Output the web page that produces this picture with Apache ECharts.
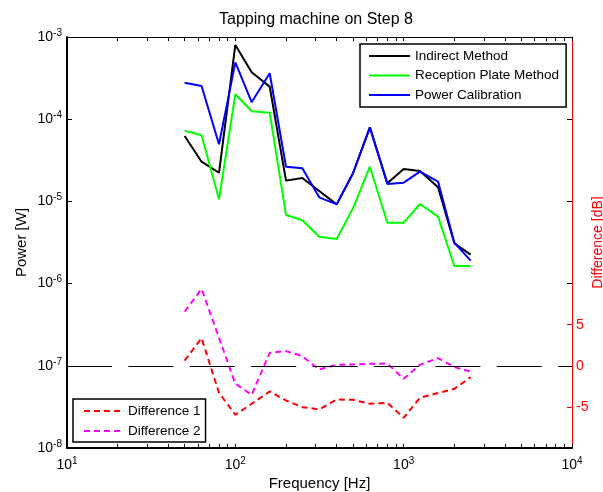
<!DOCTYPE html>
<html>
<head>
<meta charset="utf-8">
<title>Tapping machine on Step 8</title>
<script src="https://cdn.jsdelivr.net/npm/echarts@6/dist/echarts.min.js"></script>
<style>
  html, body { margin: 0; padding: 0; background: #fff; }
  #main { width: 603px; height: 492px; }
</style>
</head>
<body>
<div id="main"></div>
<script>
// 1/3 octave band centre frequencies [Hz]
var freqs = [50, 63, 80, 100, 125, 160, 200, 250, 315, 400, 500, 630, 800, 1000, 1250, 1600, 2000, 2500];

// power [W]
var indirect = [6.25e-5, 3.04e-5, 2.23e-5, 8.0e-4, 3.72e-4, 2.49e-4, 1.79e-5, 1.93e-5, 1.34e-5, 9.2e-6,
  2.2e-5, 7.96e-5, 1.66e-5, 2.48e-5, 2.34e-5, 1.49e-5, 3.09e-6, 2.25e-6];
var reception = [7.24e-5, 6.37e-5, 1.06e-5, 2.01e-4, 1.25e-4, 1.20e-4, 6.84e-6, 5.91e-6, 3.72e-6, 3.49e-6,
  8.24e-6, 2.64e-5, 5.51e-6, 5.51e-6, 9.29e-6, 6.52e-6, 1.64e-6, 1.64e-6];
var powerCal = [2.78e-4, 2.54e-4, 4.96e-5, 4.92e-4, 1.61e-4, 3.62e-4, 2.64e-5, 2.53e-5, 1.12e-5, 9.2e-6,
  2.2e-5, 7.96e-5, 1.63e-5, 1.69e-5, 2.30e-5, 1.74e-5, 3.15e-6, 1.90e-6];

// differences [dB] (right axis)
var diff1 = [0.64, 3.37, -3.3, -5.96, -4.62, -3.12, -4.22, -5.03, -5.3, -4.1,
  -4.14, -4.62, -4.5, -6.33, -3.89, -3.32, -2.8, -1.38];
var diff2 = [6.6, 9.35, 3.4, -2.19, -3.53, 1.58, 1.79, 1.18, -0.45, 0.12,
  0.16, 0.24, 0.28, -1.58, 0.12, 0.94, -0.16, -0.69];

// right axis labels
var diffTicks = [-5, 0, 5];

var FONT = 'Liberation Sans, Arial, sans-serif';

function pairs(vals) {
  return freqs.map(function (f, i) { return [f, vals[i]]; });
}

// log ticks 10,20,...,90,100,200,...,10000
var xTicks = [];
[10, 100, 1000].forEach(function (d) {
  for (var k = 1; k < 10; k++) xTicks.push(k * d);
});
xTicks.push(10000);

function powLabel(v) {
  var e = Math.round(Math.log(v) / Math.LN10);
  return '{b|10}{s|' + e + '}';
}
var powRich = {
  b: { fontSize: 14, lineHeight: 18, color: '#000', fontFamily: FONT },
  s: { fontSize: 10, lineHeight: 10, verticalAlign: 'top', color: '#000', fontFamily: FONT }
};

// legend: plain line sample, no marker
var legendBase = {
  orient: 'vertical',
  selectedMode: false,
  backgroundColor: '#fff',
  borderColor: '#000',
  borderWidth: 1.5,
  borderRadius: 0,
  itemHeight: 14,
  itemStyle: { color: 'rgba(0,0,0,0)', borderWidth: 0, opacity: 0 },
  textStyle: { fontSize: 13.5, color: '#000', fontFamily: FONT, padding: 0 }
};

var myChart = echarts.init(document.getElementById('main'));

var option = {
  animation: false,
  backgroundColor: '#fff',
  textStyle: { fontFamily: FONT },
  title: {
    text: 'Tapping machine on Step 8',
    left: 219,
    top: 12,
    padding: 0,
    textStyle: { fontSize: 16, fontWeight: 'normal', color: '#000', fontFamily: FONT }
  },
  grid: [
    { left: 67, right: 31, top: 37, bottom: 44, outerBoundsMode: 'none', containLabel: false },
    { left: 67, right: 31, top: 37, bottom: 44, outerBoundsMode: 'none', containLabel: false }
  ],
  legend: [Object.assign({}, legendBase, {
    data: ['Indirect Method', 'Reception Plate Method', 'Power Calibration'],
    left: 360,
    top: 44,
    padding: [5, 7, 5, 8],
    itemWidth: 41,
    itemGap: 5.5
  }), Object.assign({}, legendBase, {
    data: ['Difference 1', 'Difference 2'],
    left: 73,
    top: 399,
    padding: [5, 5, 4, 10],
    itemWidth: 39,
    itemGap: 6
  })],
  xAxis: [{
    type: 'log',
    logBase: 10,
    gridIndex: 0,
    position: 'bottom',
    min: 10,
    max: 10000,
    name: 'Frequency [Hz]',
    nameLocation: 'middle',
    nameGap: 28,
    nameMoveOverlap: false,
    nameTextStyle: { fontSize: 15, color: '#000', fontFamily: FONT },
    axisLine: { show: true, onZero: false, lineStyle: { color: '#000', width: 2 } },
    axisTick: { show: true, inside: true, length: 4, customValues: xTicks, lineStyle: { color: '#000', width: 1 } },
    axisLabel: { margin: 8, formatter: powLabel, rich: powRich },
    splitLine: { show: false },
    minorTick: { show: false }
  }, {
    type: 'log',
    logBase: 10,
    gridIndex: 1,
    position: 'top',
    min: 10,
    max: 10000,
    axisLine: { show: true, onZero: false, lineStyle: { color: '#000', width: 1 } },
    axisTick: { show: true, inside: true, length: 4, customValues: xTicks, lineStyle: { color: '#000', width: 1 } },
    axisLabel: { show: false },
    splitLine: { show: false }
  }],
  yAxis: [{
    type: 'log',
    logBase: 10,
    gridIndex: 0,
    position: 'left',
    min: 1e-8,
    max: 1e-3,
    name: 'Power [W]',
    nameLocation: 'middle',
    nameRotate: 90,
    nameGap: 38,
    nameMoveOverlap: false,
    nameTextStyle: { fontSize: 15, color: '#000', fontFamily: FONT },
    axisLine: { show: true, onZero: false, lineStyle: { color: '#000', width: 2 } },
    axisTick: { show: true, inside: true, length: 5, lineStyle: { color: '#000', width: 1 } },
    axisLabel: { margin: 5, formatter: powLabel, rich: powRich },
    splitLine: { show: false }
  }, {
    type: 'value',
    gridIndex: 0,
    position: 'right',
    min: -10,
    max: 40,
    interval: 5,
    name: 'Difference [dB]',
    nameLocation: 'middle',
    nameRotate: 90,
    nameGap: 19,
    nameMoveOverlap: false,
    nameTextStyle: { fontSize: 14, color: '#ff0000', fontFamily: FONT },
    axisLine: { show: true, onZero: false, lineStyle: { color: '#ff0000', width: 1 } },
    axisTick: { show: true, inside: true, length: 5, customValues: diffTicks, lineStyle: { color: '#ff0000', width: 1 } },
    axisLabel: { margin: 4, customValues: diffTicks, fontSize: 14, color: '#ff0000', fontFamily: FONT },
    splitLine: { show: false }
  }, {
    type: 'log',
    logBase: 10,
    gridIndex: 1,
    position: 'right',
    min: 1e-8,
    max: 1e-3,
    axisLine: { show: false, onZero: false },
    axisTick: { show: true, inside: true, length: 5, lineStyle: { color: '#000', width: 1 } },
    axisLabel: { show: false },
    splitLine: { show: false }
  }],
  series: [{
    name: 'Indirect Method',
    type: 'line',
    xAxisIndex: 0,
    yAxisIndex: 0,
    data: pairs(indirect),
    symbol: 'none',
    silent: true,
    lineStyle: { color: '#000', width: 2 },
    itemStyle: { color: '#000' }
  }, {
    name: 'Reception Plate Method',
    type: 'line',
    xAxisIndex: 0,
    yAxisIndex: 0,
    data: pairs(reception),
    symbol: 'none',
    silent: true,
    lineStyle: { color: '#00ff00', width: 2 },
    itemStyle: { color: '#00ff00' }
  }, {
    name: 'Power Calibration',
    type: 'line',
    xAxisIndex: 0,
    yAxisIndex: 0,
    data: pairs(powerCal),
    symbol: 'none',
    silent: true,
    lineStyle: { color: '#0000ff', width: 2 },
    itemStyle: { color: '#0000ff' }
  }, {
    name: 'Difference 1',
    type: 'line',
    xAxisIndex: 0,
    yAxisIndex: 1,
    data: pairs(diff1),
    symbol: 'none',
    silent: true,
    lineStyle: { color: '#ff0000', width: 2, type: [6, 4] },
    itemStyle: { color: '#ff0000' },
    markLine: {
      silent: true,
      symbol: 'none',
      label: { show: false },
      lineStyle: { color: '#000', width: 1, type: [45, 16.4] },
      emphasis: { disabled: true },
      data: [{ yAxis: 0 }]
    }
  }, {
    name: 'Difference 2',
    type: 'line',
    xAxisIndex: 0,
    yAxisIndex: 1,
    data: pairs(diff2),
    symbol: 'none',
    silent: true,
    lineStyle: { color: '#ff00ff', width: 2, type: [6, 4] },
    itemStyle: { color: '#ff00ff' }
  }]
};

myChart.setOption(option);
</script>
</body>
</html>
